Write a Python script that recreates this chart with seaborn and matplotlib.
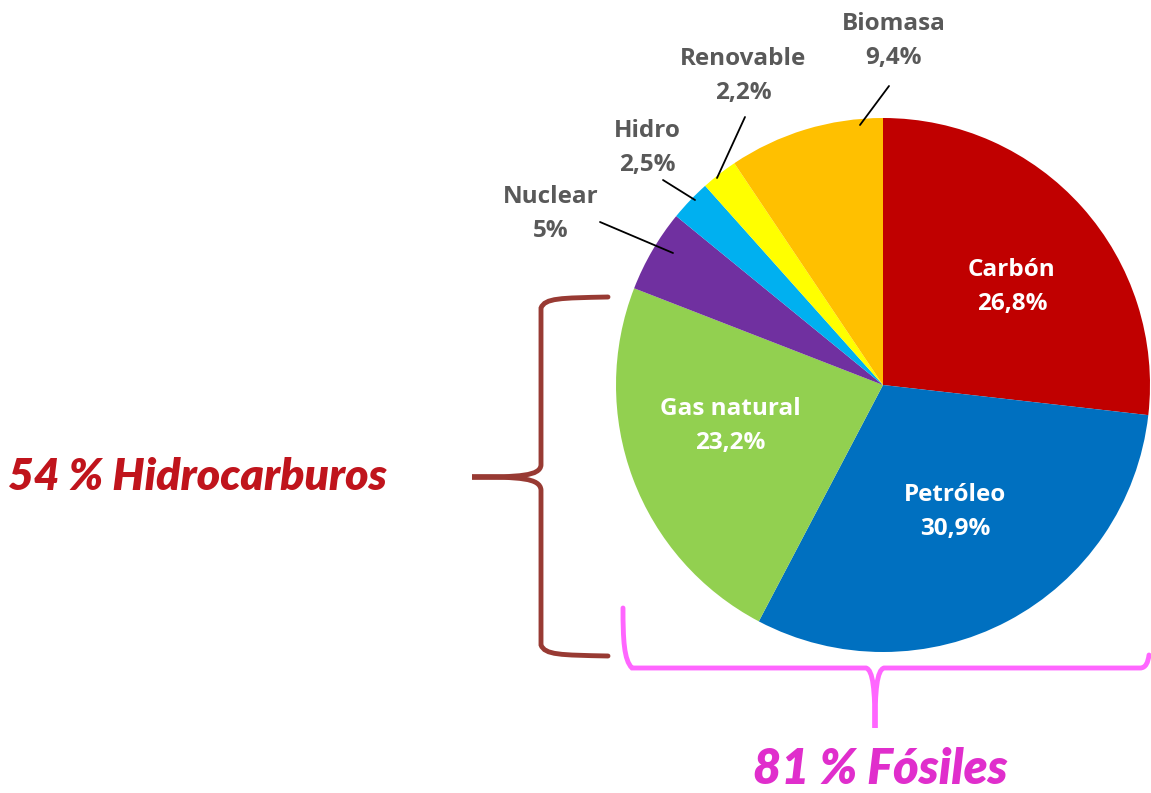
import matplotlib
matplotlib.use('Agg')
import matplotlib.pyplot as plt
import seaborn as sns
from matplotlib.path import Path
from matplotlib.patches import PathPatch

# data
fuentes = ['Carbón', 'Petróleo', 'Gas natural', 'Nuclear', 'Hidro', 'Renovable', 'Biomasa']
porcentajes = [26.8, 30.9, 23.2, 5.0, 2.5, 2.2, 9.4]
etiquetas_pct = ['26,8%', '30,9%', '23,2%', '5%', '2,5%', '2,2%', '9,4%']
colores = ['#C00000', '#0070C0', '#92D050', '#7030A0', '#00B0F0', '#FFFF00', '#FFC000']
hidrocarburos_txt = '54 % Hidrocarburos'
fosiles_txt = '81 % Fósiles'

sns.set_theme(style='white')
plt.rcParams['font.family'] = ['Open Sans', 'DejaVu Sans']

W, H = 1151, 793
fig = plt.figure(figsize=(W / 100, H / 100), dpi=100)
ax = fig.add_axes([0, 0, 1, 1])

cx, cy, r = 883, 385, 267
wedges, _ = ax.pie(porcentajes, colors=colores, startangle=-90, counterclock=True,
                   center=(cx, cy), radius=r, frame=True,
                   wedgeprops=dict(linewidth=0))
ax.set_xlim(0, W)
ax.set_ylim(H, 0)
ax.set_aspect('equal')
ax.axis('off')

# labels inside
inside_pos = {0: (1012, 287), 1: (955, 512), 2: (730, 426)}
for i, (x, y) in inside_pos.items():
    ax.text(x, y, f'{fuentes[i]}\n{etiquetas_pct[i]}', color='white', fontsize=17.5,
            fontweight='bold', ha='center', va='center', linespacing=1.55)

# labels outside with leader lines
outside = {
    6: ((894, 41), (889, 86), (860, 125)),
    5: ((743, 76), (745, 117), (717, 178)),
    4: ((647, 148), (663, 180), (695, 200)),
    3: ((551, 214), (600, 222), (673, 253)),
}
for i, (tp, p0, p1) in outside.items():
    ax.text(tp[0], tp[1], f'{fuentes[i]}\n{etiquetas_pct[i]}', color='#595959', fontsize=17.5,
            fontweight='bold', ha='center', va='center', linespacing=1.55)
    ax.plot([p0[0], p1[0]], [p0[1], p1[1]], color='black', lw=1.3)

# left curly brace (brown)
brown = '#983A33'
v = [(608, 297), (560, 298), (545, 298), (541, 308),
     (541, 465),
     (540, 476), (520, 477), (472, 477),
     (520, 477), (540, 478), (541, 490),
     (541, 645),
     (545, 655), (560, 655), (608, 656)]
c = [Path.MOVETO, Path.CURVE4, Path.CURVE4, Path.CURVE4,
     Path.LINETO,
     Path.CURVE4, Path.CURVE4, Path.CURVE4,
     Path.CURVE4, Path.CURVE4, Path.CURVE4,
     Path.LINETO,
     Path.CURVE4, Path.CURVE4, Path.CURVE4]
ax.add_patch(PathPatch(Path(v, c), fill=False, edgecolor=brown, lw=3.5, capstyle='round'))

# bottom curly brace (pink)
pink = '#FF66FF'
v = [(623, 608), (623, 640), (624, 660), (632, 668),
     (866, 668),
     (873, 670), (875, 690), (875, 728),
     (875, 690), (877, 670), (884, 668),
     (1140, 668),
     (1146, 668), (1148, 662), (1149, 655)]
ax.add_patch(PathPatch(Path(v, c), fill=False, edgecolor=pink, lw=3.5, capstyle='round'))

ax.text(8, 477, hidrocarburos_txt, color='#C0141C', fontsize=32, fontweight='heavy',
        fontstyle='italic', ha='left', va='center', family=['Lato', 'DejaVu Sans'])
ax.text(880, 769, fosiles_txt, color='#E02ECC', fontsize=35, fontweight='heavy',
        fontstyle='italic', ha='center', va='center', family=['Lato', 'DejaVu Sans'])

plt.savefig('out.png', dpi=100, facecolor='white')
